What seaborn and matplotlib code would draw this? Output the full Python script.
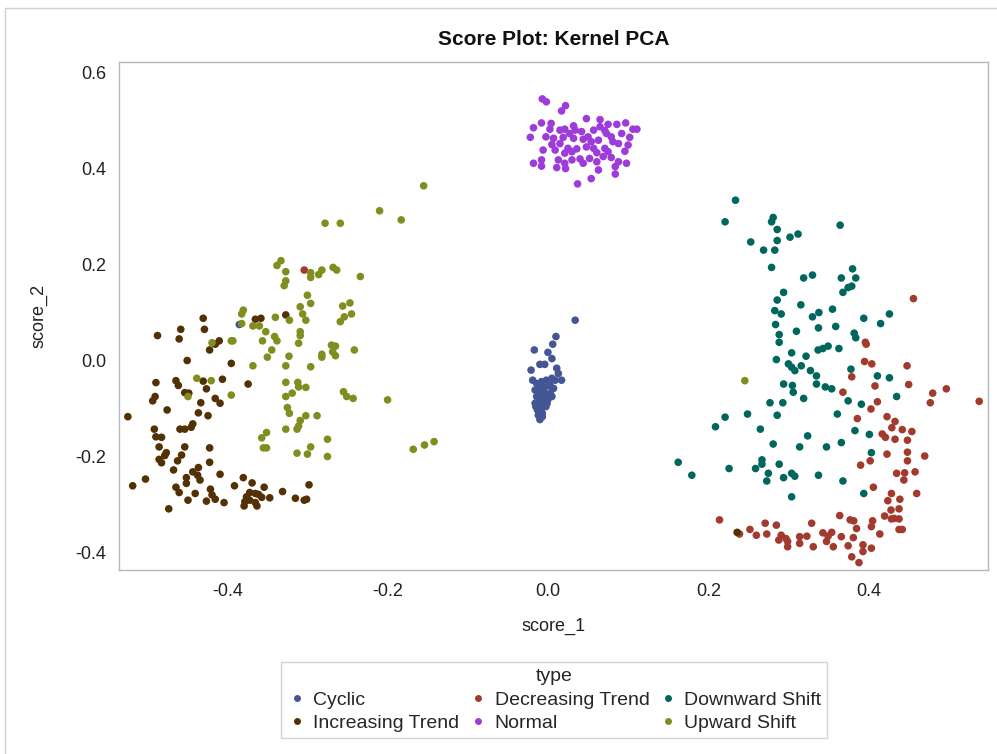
import numpy as np
import pandas as pd
import matplotlib
matplotlib.use("Agg")
import matplotlib.pyplot as plt
import seaborn as sns
from matplotlib.lines import Line2D

# ---------------- data ----------------
categories = ["Cyclic", "Decreasing Trend", "Downward Shift",
              "Increasing Trend", "Normal", "Upward Shift"]
palette_colors = ["#445694", "#A23A2E", "#01665E", "#543005", "#9D3CDB", "#7F8E1F"]

cyclic_pts = [
    (0.034, 0.083), (0.010, 0.049), (0.006, 0.033), (-0.017, 0.021), (0.000, 0.016),
    (0.005, 0.003), (-0.010, -0.009), (-0.004, -0.009), (0.011, -0.017), (-0.021, -0.021),
    (0.013, -0.028), (0.017, -0.042), (-0.019, -0.042), (-0.014, -0.049), (-0.008, -0.045),
    (-0.002, -0.042), (0.005, -0.038), (0.009, -0.042), (-0.016, -0.0625), (-0.010, -0.059),
    (-0.004, -0.057), (0.0025, -0.054), (0.007, -0.059), (-0.014, -0.076), (-0.009, -0.073),
    (-0.0025, -0.071), (0.003, -0.069), (-0.016, -0.090), (-0.011, -0.087), (-0.005, -0.083),
    (0.000, -0.082), (-0.013, -0.104), (-0.008, -0.101), (-0.0025, -0.097), (-0.012, -0.115),
    (-0.007, -0.111), (-0.010, -0.124), (-0.015, -0.097), (0.002, -0.049), (-0.006, -0.066),
    (-0.001, -0.090), (-0.009, -0.094), (-0.011, -0.066), (-0.004, -0.076), (-0.007, -0.118),
    (-0.012, -0.083), (0.005, -0.076), (-0.385, 0.074),
]

decreasing_pts = [
    (0.456, 0.128), (0.396, 0.037), (0.397, 0.033), (0.395, -0.003), (0.404, -0.008),
    (0.379, -0.035), (0.448, -0.012), (0.450, -0.051), (0.408, -0.054), (0.368, -0.067),
    (0.411, -0.087), (0.403, -0.102), (0.386, -0.122), (0.423, -0.118), (0.433, -0.128),
    (0.429, -0.141), (0.442, -0.145), (0.454, -0.149), (0.417, -0.154), (0.421, -0.161),
    (0.433, -0.165), (0.4485, -0.167), (0.480, -0.069), (0.497, -0.060), (0.477, -0.089),
    (0.538, -0.086), (0.423, -0.196), (0.4485, -0.192), (0.4485, -0.210), (0.470, -0.200),
    (0.402, -0.210), (0.390, -0.219), (0.435, -0.236), (0.445, -0.235), (0.458, -0.233),
    (0.444, -0.250), (0.406, -0.265), (0.4285, -0.278), (0.424, -0.293), (0.439, -0.290),
    (0.460, -0.278), (0.428, -0.3125), (0.438, -0.310), (0.432, -0.330), (0.438, -0.331),
    (0.4285, -0.331), (0.442, -0.353), (0.405, -0.335), (0.4035, -0.347), (0.3815, -0.335),
    (0.385, -0.351), (0.377, -0.333), (0.364, -0.324), (0.414, -0.3625), (0.214, -0.333),
    (0.252, -0.353), (0.260, -0.365), (0.273, -0.3625), (0.271, -0.340), (0.285, -0.344),
    (0.291, -0.365), (0.288, -0.375), (0.299, -0.378), (0.299, -0.389), (0.314, -0.368),
    (0.314, -0.382), (0.323, -0.367), (0.331, -0.389), (0.329, -0.340), (0.343, -0.360),
    (0.3495, -0.367), (0.354, -0.359), (0.3475, -0.378), (0.356, -0.389), (0.366, -0.368),
    (0.3745, -0.387), (0.381, -0.370), (0.393, -0.385), (0.393, -0.399), (0.4035, -0.392),
    (0.379, -0.410), (0.388, -0.422), (0.239, -0.3625), (0.297, -0.372), (0.420, -0.325),
    (0.438, -0.353), (-0.304, 0.1875),
]

downward_pts = [
    (0.234, 0.333), (0.221, 0.288), (0.279, 0.288), (0.281, 0.297), (0.286, 0.272),
    (0.286, 0.249), (0.302, 0.256), (0.312, 0.2625), (0.253, 0.246), (0.269, 0.229),
    (0.283, 0.229), (0.279, 0.193), (0.3645, 0.281), (0.380, 0.190), (0.366, 0.171),
    (0.384, 0.171), (0.379, 0.154), (0.3745, 0.151), (0.368, 0.141), (0.319, 0.171),
    (0.330, 0.177), (0.294, 0.141), (0.286, 0.125), (0.283, 0.103), (0.291, 0.096),
    (0.3155, 0.115), (0.330, 0.090), (0.338, 0.099), (0.355, 0.106), (0.284, 0.074),
    (0.310, 0.060), (0.3375, 0.067), (0.359, 0.070), (0.2885, 0.053), (0.2885, 0.037),
    (0.394, 0.087), (0.415, 0.076), (0.426, 0.096), (0.382, 0.056), (0.384, 0.0465),
    (0.285, 0.001), (0.304, 0.015), (0.322, 0.008), (0.300, -0.008), (0.304, -0.015),
    (0.308, -0.022), (0.316, -0.012), (0.3275, -0.022), (0.337, 0.021), (0.343, 0.024),
    (0.3495, 0.029), (0.363, 0.024), (0.335, -0.033), (0.335, -0.050), (0.346, -0.056),
    (0.354, -0.060), (0.378, -0.019), (0.294, -0.050), (0.305, -0.053), (0.306, -0.067),
    (0.319, -0.080), (0.411, -0.033), (0.426, -0.037), (0.3745, -0.085), (0.391, -0.092),
    (0.435, -0.076), (0.277, -0.089), (0.293, -0.089), (0.249, -0.1125), (0.286, -0.115),
    (0.221, -0.119), (0.209, -0.139), (0.265, -0.144), (0.361, -0.1125), (0.383, -0.147),
    (0.401, -0.155), (0.324, -0.158), (0.281, -0.175), (0.314, -0.181), (0.3475, -0.181),
    (0.366, -0.172), (0.4035, -0.193), (0.1625, -0.213), (0.1795, -0.240), (0.226, -0.226),
    (0.259, -0.226), (0.267, -0.208), (0.267, -0.217), (0.275, -0.236), (0.273, -0.252),
    (0.2885, -0.217), (0.294, -0.245), (0.304, -0.236), (0.308, -0.242), (0.3375, -0.240),
    (0.368, -0.252), (0.304, -0.285), (0.394, -0.278),
]

increasing_pts = [
    (-0.430, 0.087), (-0.4285, 0.064), (-0.487, 0.051), (-0.458, 0.064), (-0.460, 0.044),
    (-0.410, 0.040), (-0.415, 0.033), (-0.422, 0.021), (-0.365, 0.085), (-0.358, 0.087),
    (-0.327, 0.094), (-0.450, -0.001), (-0.395, -0.007), (-0.489, -0.047), (-0.464, -0.043),
    (-0.461, -0.053), (-0.430, -0.044), (-0.406, -0.040), (-0.426, -0.060), (-0.374, -0.050),
    (-0.453, -0.068), (-0.448, -0.069), (-0.490, -0.076), (-0.493, -0.085), (-0.475, -0.104),
    (-0.433, -0.089), (-0.415, -0.080), (-0.409, -0.090), (-0.436, -0.110), (-0.424, -0.116),
    (-0.524, -0.118), (-0.443, -0.133), (-0.445, -0.140), (-0.459, -0.144), (-0.453, -0.144),
    (-0.491, -0.144), (-0.489, -0.160), (-0.482, -0.161), (-0.485, -0.181), (-0.453, -0.181),
    (-0.422, -0.183), (-0.476, -0.193), (-0.478, -0.199), (-0.457, -0.198), (-0.485, -0.207),
    (-0.482, -0.214), (-0.462, -0.210), (-0.422, -0.213), (-0.467, -0.229), (-0.443, -0.233),
    (-0.436, -0.224), (-0.437, -0.240), (-0.451, -0.245), (-0.434, -0.250), (-0.409, -0.238),
    (-0.502, -0.248), (-0.518, -0.262), (-0.451, -0.257), (-0.464, -0.265), (-0.460, -0.276),
    (-0.440, -0.278), (-0.421, -0.269), (-0.419, -0.281), (-0.449, -0.292), (-0.426, -0.294),
    (-0.415, -0.290), (-0.404, -0.297), (-0.473, -0.310), (-0.391, -0.262), (-0.380, -0.245),
    (-0.369, -0.256), (-0.354, -0.265), (-0.372, -0.276), (-0.365, -0.278), (-0.361, -0.280),
    (-0.376, -0.285), (-0.378, -0.295), (-0.372, -0.292), (-0.365, -0.297), (-0.357, -0.286),
    (-0.347, -0.287), (-0.331, -0.274), (-0.315, -0.288), (-0.304, -0.292), (-0.301, -0.290),
    (-0.298, -0.260), (-0.379, -0.304), (-0.363, -0.304), (0.236, -0.359),
]

normal_pts = [
    (-0.007, 0.544), (-0.002, 0.538), (0.022, 0.530), (0.017, 0.519), (-0.008, 0.494),
    (-0.018, 0.484), (0.004, 0.493), (0.0025, 0.481), (-0.022, 0.464), (-0.0025, 0.465),
    (0.015, 0.479), (0.021, 0.481), (0.032, 0.488), (0.034, 0.479), (0.048, 0.503),
    (0.065, 0.501), (0.065, 0.486), (0.075, 0.491), (0.086, 0.491), (0.097, 0.494),
    (0.106, 0.481), (0.111, 0.481), (0.102, 0.464), (0.100, 0.448), (0.096, 0.435),
    (0.088, 0.451), (0.079, 0.465), (0.071, 0.478), (0.057, 0.479), (0.050, 0.465),
    (0.042, 0.476), (0.032, 0.462), (0.019, 0.464), (0.015, 0.451), (0.005, 0.449),
    (0.009, 0.4375), (-0.006, 0.4375), (0.025, 0.441), (0.030, 0.434), (0.021, 0.431),
    (0.036, 0.440), (0.048, 0.444), (0.054, 0.455), (0.063, 0.458), (0.071, 0.441),
    (0.061, 0.432), (0.052, 0.420), (0.040, 0.419), (0.030, 0.417), (0.021, 0.410),
    (0.013, 0.417), (0.011, 0.401), (-0.008, 0.417), (-0.018, 0.410), (-0.008, 0.404),
    (0.022, 0.399), (0.044, 0.410), (0.061, 0.413), (0.069, 0.424), (0.079, 0.422),
    (0.088, 0.413), (0.098, 0.410), (0.084, 0.403), (0.063, 0.396), (0.084, 0.3875),
    (0.054, 0.378), (0.037, 0.367), (0.073, 0.472), (0.092, 0.472), (0.044, 0.460),
    (0.027, 0.472), (0.007, 0.462), (0.057, 0.441), (0.075, 0.434), (0.081, 0.455),
]

upward_pts = [
    (-0.155, 0.363), (-0.210, 0.311), (-0.183, 0.292), (-0.278, 0.285), (-0.259, 0.285),
    (-0.333, 0.207), (-0.338, 0.197), (-0.327, 0.184), (-0.327, 0.165), (-0.329, 0.155),
    (-0.296, 0.182), (-0.296, 0.172), (-0.286, 0.178), (-0.282, 0.1875), (-0.268, 0.193),
    (-0.2635, 0.1875), (-0.234, 0.174), (-0.300, 0.135), (-0.296, 0.118), (-0.309, 0.111),
    (-0.306, 0.096), (-0.302, 0.083), (-0.256, 0.1125), (-0.247, 0.119), (-0.245, 0.096),
    (-0.254, 0.090), (-0.259, 0.080), (-0.380, 0.104), (-0.382, 0.096), (-0.382, 0.076),
    (-0.368, 0.071), (-0.360, 0.071), (-0.352, 0.059), (-0.340, 0.089), (-0.3225, 0.083),
    (-0.341, 0.049), (-0.338, 0.040), (-0.3445, 0.021), (-0.356, 0.040), (-0.350, 0.006),
    (-0.309, 0.059), (-0.309, 0.051), (-0.311, 0.035), (-0.323, 0.008), (-0.327, -0.012),
    (-0.368, -0.012), (-0.395, 0.040), (-0.393, 0.040), (-0.419, 0.036), (-0.438, -0.038),
    (-0.420, -0.043), (-0.395, -0.073), (-0.282, 0.012), (-0.282, 0.006), (-0.270, 0.031),
    (-0.265, 0.029), (-0.2685, 0.017), (-0.265, 0.009), (-0.2415, 0.021), (-0.296, -0.014),
    (-0.327, -0.0465), (-0.312, -0.0465), (-0.311, -0.056), (-0.302, -0.057), (-0.319, -0.069),
    (-0.327, -0.076), (-0.255, -0.066), (-0.251, -0.076), (-0.243, -0.080), (-0.200, -0.083),
    (-0.325, -0.099), (-0.3225, -0.111), (-0.309, -0.126), (-0.311, -0.1375), (-0.302, -0.116),
    (-0.288, -0.116), (-0.327, -0.144), (-0.313, -0.144), (-0.351, -0.151), (-0.357, -0.162),
    (-0.355, -0.183), (-0.351, -0.183), (-0.313, -0.194), (-0.300, -0.196), (-0.296, -0.181),
    (-0.275, -0.165), (-0.275, -0.201), (-0.168, -0.186), (-0.154, -0.177), (-0.142, -0.170),
    (-0.449, -0.076), (0.2456, -0.043),
]

x_ticks = [-0.4, -0.2, 0.0, 0.2, 0.4]
y_ticks = [-0.4, -0.2, 0.0, 0.2, 0.4, 0.6]

# ---------------- build table ----------------
groups = [cyclic_pts, decreasing_pts, downward_pts, increasing_pts, normal_pts, upward_pts]
rows = []
for cat, pts in zip(categories, groups):
    for x, y in pts:
        rows.append({"score_1": x, "score_2": y, "type": cat})
df = pd.DataFrame(rows)

# ---------------- plot ----------------
sns.set_style("white")
plt.rcParams["font.family"] = ["Liberation Sans", "DejaVu Sans"]
plt.rcParams["axes.unicode_minus"] = False

fig = plt.figure(figsize=(9.97, 7.54), dpi=100)
ax = fig.add_axes([0.1194, 0.244, 0.8716, 0.6738])

sns.scatterplot(data=df, x="score_1", y="score_2", hue="type",
                hue_order=categories, palette=palette_colors,
                s=30, linewidth=0, edgecolor="none", ax=ax, legend=True)

ax.set_xlim(-0.535, 0.549)
ax.set_ylim(-0.4375, 0.621)
ax.set_xticks(x_ticks)
ax.set_xticklabels([f"{v:.1f}" for v in x_ticks])
ax.set_yticks(y_ticks)
ax.set_yticklabels([f"{v:.1f}" for v in y_ticks])

edge = "#B4B8BC"
for sp in ax.spines.values():
    sp.set_visible(True)
    sp.set_color(edge)
    sp.set_linewidth(1.0)
ax.tick_params(axis="both", which="both", direction="out", length=5, width=1,
               color=edge, labelsize=13, labelcolor="#222222", pad=4)
ax.set_xlabel("score_1", fontsize=13, color="#222222", labelpad=13)
ax.set_ylabel("score_2", fontsize=13, color="#222222", labelpad=20)
ax.set_title("Score Plot: Kernel PCA", fontsize=15, fontweight="bold",
             color="#111111", pad=12)

# legend, row-wise order as in reference
handles, labels = ax.get_legend_handles_labels()
ax.get_legend().remove()
order = ["Cyclic", "Increasing Trend", "Decreasing Trend", "Normal",
         "Downward Shift", "Upward Shift"]
new_handles = [Line2D([0], [0], marker="o", linestyle="none", markersize=5,
                      markerfacecolor=palette_colors[categories.index(l)],
                      markeredgecolor="none") for l in order]
leg = fig.legend(new_handles, order, title="type", ncol=3, loc="center",
                 bbox_to_anchor=(0.556, 0.0716), fontsize=14, title_fontsize=14,
                 frameon=True, fancybox=False, edgecolor="#C8C8C8",
                 handletextpad=0.35, columnspacing=0.45, borderpad=0.3,
                 labelspacing=0.3, handlelength=1.0)
leg.get_frame().set_linewidth(1.0)

# outer output frame lines
fig.add_artist(Line2D([0.005, 1.0], [0.989, 0.989], transform=fig.transFigure,
                      color="#D0D0D0", linewidth=1))
fig.add_artist(Line2D([0.005, 0.005], [0.0, 0.989], transform=fig.transFigure,
                      color="#D0D0D0", linewidth=1))

fig.savefig("out.png", dpi=100)
